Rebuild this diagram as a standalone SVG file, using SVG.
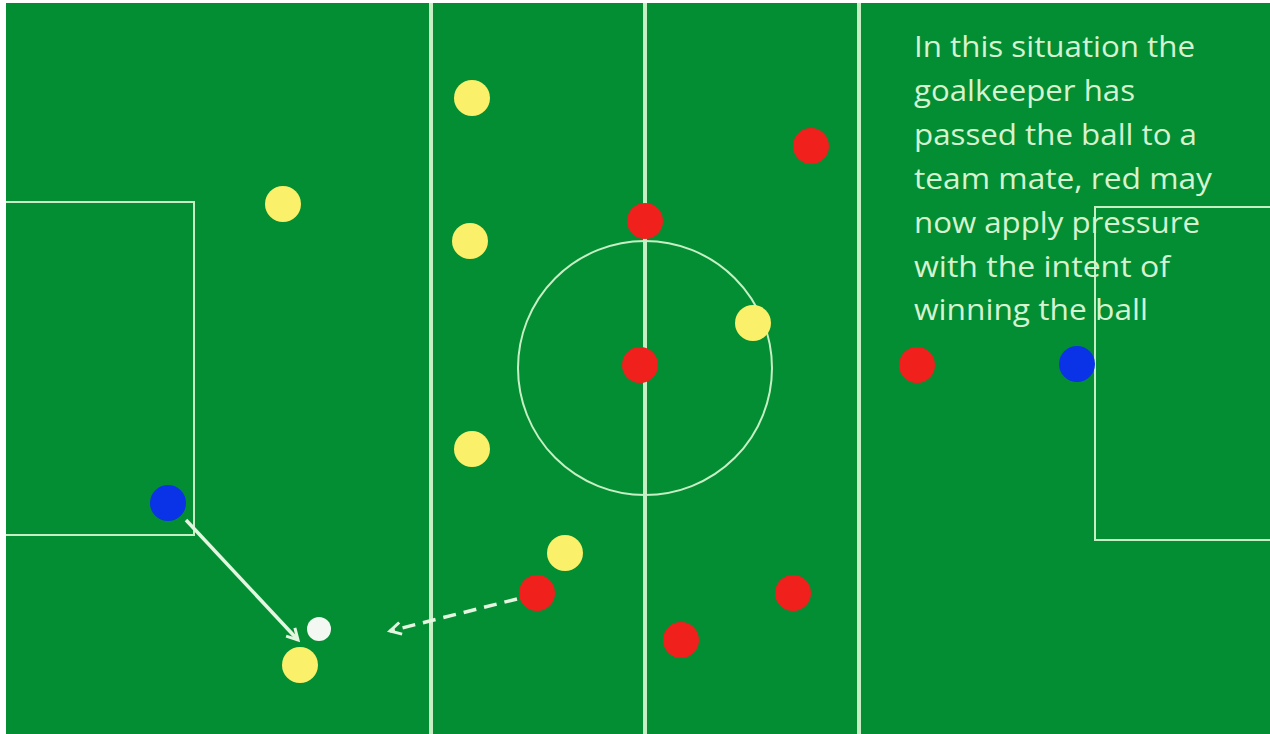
<svg xmlns="http://www.w3.org/2000/svg" width="1270" height="734" viewBox="0 0 1270 734">
<defs>
<style>
.line{stroke:#c6f0c4;stroke-width:4;fill:none}
.thin{stroke:#c6f0c4;stroke-width:2;fill:none}
.yellow{fill:#fbf06a}
.red{fill:#f0201c}
.blue{fill:#0a32e6}
.ball{fill:#f4f8f2}
.txt{font-family:"Open Sans","Liberation Sans",sans-serif;font-size:30px;fill:#d6f3d0}
.arrow{stroke:#e4f6e0;stroke-width:3.5;fill:none}
</style>
<marker id="head" viewBox="0 0 16 16" refX="13" refY="8" markerWidth="16" markerHeight="16" markerUnits="userSpaceOnUse" orient="auto">
<path d="M2,2 L13,8 L2,14" fill="none" stroke="#e4f6e0" stroke-width="3"/>
</marker>
</defs>
<rect x="0" y="0" width="1270" height="734" fill="#ffffff"/>
<rect x="6" y="3" width="1264" height="731" fill="#038e33"/>
<g id="pitch">
<line class="line" x1="431" y1="3" x2="431" y2="734"/>
<line class="line" x1="645" y1="3" x2="645" y2="734"/>
<line class="line" x1="859" y1="3" x2="859" y2="734"/>
<polyline class="thin" points="6,202 194,202 194,535 6,535"/>
<polyline class="thin" points="1270,207 1095,207 1095,540 1270,540"/>
<circle class="thin" cx="645" cy="368" r="127"/>
</g>
<g id="connectors">
<line class="arrow" x1="186" y1="520" x2="298" y2="640" marker-end="url(#head)"/>
<line class="arrow" x1="517" y1="599" x2="390" y2="631" stroke-dasharray="13,8" marker-end="url(#head)"/>
</g>
<g id="yellow-team">
<circle class="yellow" cx="283" cy="204" r="18"/>
<circle class="yellow" cx="472" cy="98" r="18"/>
<circle class="yellow" cx="470" cy="241" r="18"/>
<circle class="yellow" cx="472" cy="449" r="18"/>
<circle class="yellow" cx="565" cy="553" r="18"/>
<circle class="yellow" cx="753" cy="323" r="18"/>
<circle class="yellow" cx="300" cy="665" r="18"/>
</g>
<g id="red-team">
<circle class="red" cx="811" cy="146" r="18"/>
<circle class="red" cx="645" cy="221" r="18"/>
<circle class="red" cx="640" cy="365" r="18"/>
<circle class="red" cx="917" cy="365" r="18"/>
<circle class="red" cx="537" cy="593" r="18"/>
<circle class="red" cx="793" cy="593" r="18"/>
<circle class="red" cx="681" cy="640" r="18"/>
</g>
<g id="goalkeepers">
<circle class="blue" cx="168" cy="503" r="18"/>
<circle class="blue" cx="1077" cy="364" r="18"/>
</g>
<g id="ball">
<circle class="ball" cx="319" cy="629" r="12"/>
</g>
<g id="caption">
<text class="txt" x="914" y="57" textLength="281" lengthAdjust="spacingAndGlyphs">In this situation the</text>
<text class="txt" x="914" y="101" textLength="221" lengthAdjust="spacingAndGlyphs">goalkeeper has</text>
<text class="txt" x="914" y="145" textLength="283" lengthAdjust="spacingAndGlyphs">passed the ball to a</text>
<text class="txt" x="914" y="189" textLength="298" lengthAdjust="spacingAndGlyphs">team mate, red may</text>
<text class="txt" x="914" y="233" textLength="286" lengthAdjust="spacingAndGlyphs">now apply pressure</text>
<text class="txt" x="914" y="277" textLength="256" lengthAdjust="spacingAndGlyphs">with the intent of</text>
<text class="txt" x="914" y="320" textLength="234" lengthAdjust="spacingAndGlyphs">winning the ball</text>
</g>
</svg>
